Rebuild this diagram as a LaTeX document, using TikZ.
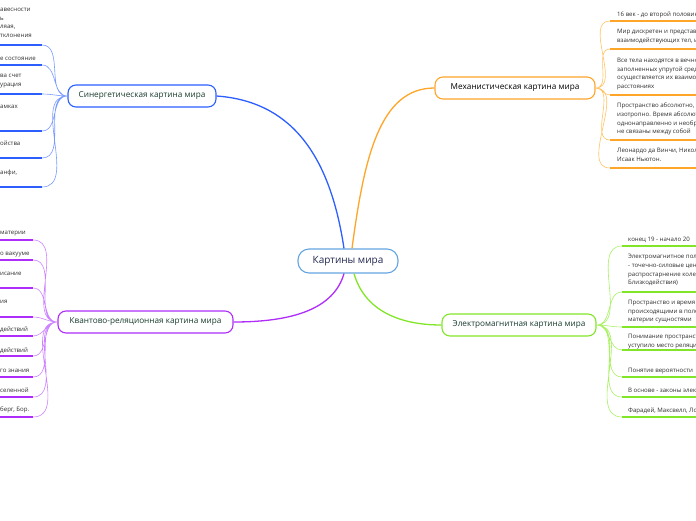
\documentclass[tikz,border=0pt]{standalone}
\usepackage{fontspec}
\setmainfont{Open Sans}
\definecolor{rootline}{RGB}{100,165,225}
\definecolor{roottext}{RGB}{35,40,80}
\definecolor{titletext}{RGB}{25,60,45}
\definecolor{leaftext}{RGB}{45,45,45}
\definecolor{synblue}{RGB}{45,95,255}
\definecolor{synlight}{RGB}{120,155,255}
\definecolor{quapurple}{RGB}{175,45,250}
\definecolor{qualight}{RGB}{205,130,255}
\definecolor{mechorange}{RGB}{255,165,40}
\definecolor{mechlight}{RGB}{255,195,100}
\definecolor{emgreen}{RGB}{130,230,40}
\definecolor{emlight}{RGB}{170,240,100}
\begin{document}
\begin{tikzpicture}[
        x=1pt, y=-1pt,
        root/.style={draw=rootline, fill=white, rounded corners=11pt, line width=1.1pt, minimum width=100pt, minimum height=24pt, text=roottext, font=\fontsize{10}{12}\selectfont},
        branch/.style={fill=white, rounded corners=8pt, line width=1.1pt, minimum height=22pt, inner sep=0pt, text=titletext, font=\fontsize{8.2}{10}\selectfont},
        leaf/.style={anchor=north west, inner sep=0pt, align=left, text=leaftext, font=\fontsize{6.1}{8.7}\selectfont, execute at begin node=\strut},
        trunk/.style={line width=1.3pt},
        twig/.style={line width=0.6pt},
        underline/.style={line width=1.6pt},
    ]
    \useasboundingbox (0,0) rectangle (696,520);
    \clip (0,0) rectangle (696,520);

    % main nodes
    \node[root](cm) at (348,261){Картины мира};
    \node[branch, draw=synblue, minimum width=148pt](syn) at (142,96){Синергетическая картина мира};
    \node[branch, draw=quapurple, minimum width=175pt](qua) at (145.5,322){Квантово-реляционная картина мира};
    \node[branch, draw=mechorange, minimum width=160pt, text=black](mech) at (515,88){Механистическая картина мира};
    \node[branch, draw=emgreen, minimum width=154pt](em) at (519,325){Электромагнитная картина мира};

    \draw[trunk, synblue] ([xshift=-4pt]cm.north) .. controls +(-15,-100) and +(70,5) .. (syn.east);
    \draw[trunk, mechorange] ([xshift=4pt]cm.north) .. controls +(12,-90) and +(-55,0) .. (mech.west);
    \draw[trunk, quapurple] ([xshift=-4pt]cm.south) .. controls +(-10,35) and +(60,0) .. (qua.east);
    \draw[trunk, emgreen] ([xshift=6pt]cm.south) .. controls +(10,35) and +(-45,0) .. (em.west);

    % synergetic leaves
    \node[leaf](s1t) at (0,8){авесности\\ь\\ляая,\\тклонения};
    \node[leaf](s2t) at (0,54){е состояние};
    \node[leaf](s3t) at (0,74){ва счет\\урация};
    \node[leaf](s4t) at (0,102){амках};
    \node[leaf](s5t) at (0,139){ойства};
    \node[leaf](s6t) at (0,168){анфи,};
    \coordinate (s1) at (42,45);
    \coordinate (s2) at (42,65);
    \coordinate (s3) at (42,94);
    \coordinate (s4) at (42,131);
    \coordinate (s5) at (42,158);
    \coordinate (s6) at (42,187);
    \draw[underline, synblue] (-2,45) -- (s1) (-2,65) -- (s2) (-2,94) -- (s3)
        (-2,131) -- (s4) (-2,158) -- (s5) (-2,187) -- (s6);
    \draw[twig, synlight] (syn.west) to[out=180,in=0] (s1) (syn.west) to[out=180,in=0] (s2)
        (syn.west) to[out=180,in=0] (s3) (syn.west) to[out=180,in=0] (s4)
        (syn.west) to[out=180,in=0] (s5) (syn.west) to[out=180,in=0] (s6);

    % quantum leaves
    \node[leaf](q1t) at (0,228){материи};
    \node[leaf](q2t) at (0,249){о вакууме};
    \node[leaf](q3t) at (0,269){исание};
    \node[leaf](q4t) at (0,297){ия};
    \node[leaf](q5t) at (0,325){действий};
    \node[leaf](q6t) at (0,346){действий};
    \node[leaf](q7t) at (0,366){го знания};
    \node[leaf](q8t) at (0,386){селенной};
    \node[leaf](q9t) at (0,405){берг, Бор.};
    \coordinate (q1) at (33,240);
    \coordinate (q2) at (33,260);
    \coordinate (q3) at (33,288);
    \coordinate (q4) at (33,317);
    \coordinate (q5) at (33,336);
    \coordinate (q6) at (33,356);
    \coordinate (q7) at (33,377);
    \coordinate (q8) at (33,397);
    \coordinate (q9) at (33,417);
    \draw[underline, quapurple] (-2,240) -- (q1) (-2,260) -- (q2) (-2,288) -- (q3)
        (-2,317) -- (q4) (-2,336) -- (q5) (-2,356) -- (q6)
        (-2,377) -- (q7) (-2,397) -- (q8) (-2,417) -- (q9);
    \draw[twig, qualight] (qua.west) to[out=180,in=0] (q1) (qua.west) to[out=180,in=0] (q2)
        (qua.west) to[out=180,in=0] (q3) (qua.west) to[out=180,in=0] (q4)
        (qua.west) to[out=180,in=0] (q5) (qua.west) to[out=180,in=0] (q6)
        (qua.west) to[out=180,in=0] (q7) (qua.west) to[out=180,in=0] (q8)
        (qua.west) to[out=180,in=0] (q9);

    % mechanistic leaves
    \node[leaf](m1t) at (617,10){16 век - до второй половины};
    \node[leaf](m2t) at (617,29){Мир дискретен и представлен\\взаимодействующих тел, и};
    \node[leaf](m3t) at (617,58){Все тела находятся в вечном\\заполненных упругой средой\\осуществляется их взаимод\\расстояниях};
    \node[leaf](m4t) at (617,103){Пространство абсолютно,\\изотропно. Время абсолютно\\однонаправленно и необрат\\не связаны между собой};
    \node[leaf](m5t) at (617,148){Леонардо да Винчи, Николай\\Исаак Ньютон.};
    \coordinate (m1) at (610,21);
    \coordinate (m2) at (610,49);
    \coordinate (m3) at (610,95);
    \coordinate (m4) at (610,140);
    \coordinate (m5) at (610,168);
    \draw[underline, mechorange] (m1) -- (700,21) (m2) -- (700,49) (m3) -- (700,95)
        (m4) -- (700,140) (m5) -- (700,168);
    \draw[twig, mechlight] (mech.east) to[out=0,in=180] (m1) (mech.east) to[out=0,in=180] (m2)
        (mech.east) to[out=0,in=180] (m3) (mech.east) to[out=0,in=180] (m4)
        (mech.east) to[out=0,in=180] (m5);

    % electromagnetic leaves
    \node[leaf](e1t) at (628,235){конец 19 - начало 20};
    \node[leaf](e2t) at (628,254){Электромагнитное поле\\- точечно-силовые центры\\распростарнение колебаний\\Близкодействия)};
    \node[leaf](e3t) at (628,300){Пространство и время\\происходящими в поле\\материи сущностями};
    \node[leaf](e4t) at (628,334){Понимание пространства\\уступило место реляционному};
    \node[leaf](e5t) at (628,366){Понятие вероятности};
    \node[leaf](e6t) at (628,386){В основе - законы электро};
    \node[leaf](e7t) at (628,406){Фарадей, Максвелл, Лоренц};
    \coordinate (e1) at (622,246);
    \coordinate (e2) at (622,292);
    \coordinate (e3) at (622,327);
    \coordinate (e4) at (622,350);
    \coordinate (e5) at (622,377);
    \coordinate (e6) at (622,397);
    \coordinate (e7) at (622,417);
    \draw[underline, emgreen] (e1) -- (700,246) (e2) -- (700,292) (e3) -- (700,327)
        (e4) -- (700,350) (e5) -- (700,377) (e6) -- (700,397) (e7) -- (700,417);
    \draw[twig, emlight] (em.east) to[out=0,in=180] (e1) (em.east) to[out=0,in=180] (e2)
        (em.east) to[out=0,in=180] (e3) (em.east) to[out=0,in=180] (e4)
        (em.east) to[out=0,in=180] (e5) (em.east) to[out=0,in=180] (e6)
        (em.east) to[out=0,in=180] (e7);
    \end{tikzpicture}
\end{document}
